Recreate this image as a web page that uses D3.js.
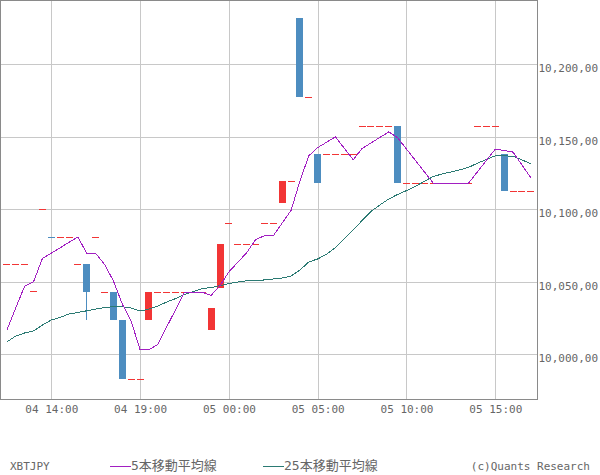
<!DOCTYPE html>
<html><head><meta charset="utf-8">
<script src="https://cdn.jsdelivr.net/npm/d3@7"></script>
<style>body{margin:0;background:#fff}svg{display:block}</style>
</head><body>
<svg id="chart" width="600" height="475"></svg>
<script>
// ---- data (30-minute bars, XBTJPY) ----
const symbol = "XBTJPY";
const ma5Label = "5本移動平均線";
const ma25Label = "25本移動平均線";
const credit = "(c)Quants Research";
const firstBar = "2018-07-04T11:30:00Z";
const lastBar = "2018-07-05T17:00:00Z";
const xTickTimes = ["2018-07-04T14:00:00Z","2018-07-04T19:00:00Z","2018-07-05T00:00:00Z",
                    "2018-07-05T05:00:00Z","2018-07-05T10:00:00Z","2018-07-05T15:00:00Z"];
const yTicks = [10000, 10050, 10100, 10150, 10200];

const open = [
10062.2,10062.2,10062.2,10043.6,10100.0,
10081.0,10080.8,10080.8,10062.2,10062.2,
10080.8,10042.8,10042.8,10023.8,9983.0,
9983.0,10023.8,10042.8,10042.8,10042.8,
10042.8,10042.8,10042.8,10016.7,10045.7,
10090.3,10076.0,10076.0,10076.0,10090.3,
10090.3,10104.2,10119.4,10231.7,10177.5,
10138.0,10138.0,10138.0,10138.0,10138.0,
10157.0,10157.0,10157.0,10157.0,10157.0,
10118.0,10118.0,10118.0,10118.0,10118.0,
10118.0,10118.0,10118.0,10157.0,10157.0,
10157.0,10138.0,10112.8,10112.8,10112.8];
const high = [
10062.2,10062.2,10062.2,10043.6,10100.0,
10081.0,10080.8,10080.8,10062.2,10062.2,
10080.8,10042.8,10042.8,10023.8,9983.0,
9983.0,10042.8,10042.8,10042.8,10042.8,
10042.8,10042.8,10042.8,10031.9,10076.0,
10090.3,10076.0,10076.0,10076.0,10090.3,
10090.3,10119.4,10119.4,10231.7,10177.5,
10138.0,10138.0,10138.0,10138.0,10138.0,
10157.0,10157.0,10157.0,10157.0,10157.0,
10118.0,10118.0,10118.0,10118.0,10118.0,
10118.0,10118.0,10118.0,10157.0,10157.0,
10157.0,10138.0,10112.8,10112.8,10112.8];
const low = [
10062.2,10062.2,10062.2,10043.6,10100.0,
10080.6,10080.8,10080.8,10062.2,10023.8,
10080.8,10042.8,10023.8,9983.0,9983.0,
9983.0,10023.8,10042.8,10042.8,10042.8,
10042.8,10042.8,10042.8,10016.7,10045.7,
10090.3,10076.0,10076.0,10076.0,10090.3,
10090.3,10104.2,10119.4,10177.5,10177.5,
10118.0,10138.0,10138.0,10138.0,10138.0,
10157.0,10157.0,10157.0,10157.0,10118.0,
10118.0,10118.0,10118.0,10118.0,10118.0,
10118.0,10118.0,10118.0,10157.0,10157.0,
10157.0,10112.8,10112.8,10112.8,10112.8];
const close = [
10062.2,10062.2,10062.2,10043.6,10100.0,
10080.6,10080.8,10080.8,10062.2,10042.8,
10080.8,10042.8,10023.8,9983.0,9983.0,
9983.0,10042.8,10042.8,10042.8,10042.8,
10042.8,10042.8,10042.8,10031.9,10076.0,
10090.3,10076.0,10076.0,10076.0,10090.3,
10090.3,10119.4,10119.4,10177.5,10177.5,
10118.0,10138.0,10138.0,10138.0,10138.0,
10157.0,10157.0,10157.0,10157.0,10118.0,
10118.0,10118.0,10118.0,10118.0,10118.0,
10118.0,10118.0,10118.0,10157.0,10157.0,
10157.0,10112.8,10112.8,10112.8,10112.8];
const ma5 = [
10016.7,10032.0,10047.0,10050.0,10066.0,
10069.7,10073.4,10077.2,10080.9,10069.4,
10069.5,10061.9,10050.5,10034.6,10022.7,
10003.1,10003.1,10006.9,10018.9,10030.8,
10042.8,10042.8,10042.8,10040.6,10047.3,
10056.8,10063.4,10070.0,10078.9,10081.7,
10081.7,10090.4,10099.1,10119.4,10136.8,
10142.4,10146.1,10149.8,10141.9,10134.0,
10141.8,10145.6,10149.4,10153.2,10149.2,
10141.4,10133.6,10125.8,10118.0,10118.0,
10118.0,10118.0,10118.0,10125.8,10133.6,
10141.4,10140.4,10139.3,10130.5,10121.6];
const ma25 = [
10008.5,10012.6,10014.7,10016.1,10020.2,
10023.6,10025.4,10027.8,10028.8,10030.0,
10031.2,10032.2,10032.8,10032.7,10031.9,
10029.8,10031.2,10033.3,10036.0,10038.4,
10041.2,10043.3,10045.2,10046.0,10047.3,
10048.8,10049.8,10050.7,10051.0,10051.2,
10051.9,10052.6,10053.9,10058.1,10063.6,
10065.7,10068.9,10073.6,10079.6,10085.6,
10092.2,10098.4,10102.9,10107.0,10110.1,
10112.8,10115.7,10119.1,10122.5,10124.2,
10125.6,10127.1,10128.8,10131.7,10134.2,
10136.8,10136.8,10136.4,10133.9,10131.3];

// ---- layout ----
const svg = d3.select("#chart");
const plotW = 537, plotH = 399;
const colUp = "#f23535", colDown = "#4d8dc0", colMa5 = "#a21fc2", colMa25 = "#2b7a73";
const grid = "#c8c8c8", border = "#8a8a8a", txt = "#666";
const mono = "'DejaVu Sans Mono', 'Noto Sans CJK JP', monospace";

const times = d3.utcMinute.every(30).range(new Date(firstBar), new Date(new Date(lastBar).getTime() + 1));
const bars = times.map((t, i) => ({t, o: open[i], h: high[i], l: low[i], c: close[i], m5: ma5[i], m25: ma25[i]}));

const x = d3.scaleUtc()
  .domain([new Date("2018-07-04T11:06:42Z"), new Date("2018-07-05T17:20:54Z")])
  .range([0, plotW]);
const y = d3.scaleLinear().domain([9969.2, 10244.1]).range([plotH, 0]);

const g = svg.append("g").attr("shape-rendering", "crispEdges");

// grid
g.append("g").selectAll("line").data(yTicks).join("line")
  .attr("x1", 0).attr("x2", plotW)
  .attr("y1", d => Math.round(y(d)) + 0.5).attr("y2", d => Math.round(y(d)) + 0.5)
  .attr("stroke", grid);
const xTicks = xTickTimes.map(s => new Date(s));
g.append("g").selectAll("line").data(xTicks).join("line")
  .attr("y1", 0).attr("y2", plotH)
  .attr("x1", d => Math.round(x(d)) + 0.5).attr("x2", d => Math.round(x(d)) + 0.5)
  .attr("stroke", grid);

// candles
const cw = 7;
const cg = g.append("g");
cg.selectAll("line.wick").data(bars.filter(b => b.h > Math.max(b.o, b.c) || b.l < Math.min(b.o, b.c))).join("line")
  .attr("class", "wick")
  .attr("x1", d => Math.round(x(d.t) - cw / 2) + 3.5).attr("x2", d => Math.round(x(d.t) - cw / 2) + 3.5)
  .attr("y1", d => y(d.h)).attr("y2", d => y(d.l))
  .attr("stroke", d => d.c < d.o ? colDown : colUp);
cg.selectAll("rect").data(bars).join("rect")
  .attr("x", d => Math.round(x(d.t) - cw / 2))
  .attr("width", cw)
  .attr("y", d => Math.round(y(Math.max(d.o, d.c))))
  .attr("height", d => Math.max(1, Math.round(y(Math.min(d.o, d.c))) - Math.round(y(Math.max(d.o, d.c)))))
  .attr("fill", d => d.c < d.o ? colDown : colUp);

// moving averages
const line = key => d3.line().x(d => x(d.t)).y(d => y(d[key]));
g.append("path").datum(bars).attr("d", line("m25")).attr("fill", "none").attr("stroke", colMa25).attr("stroke-width", 1);
g.append("path").datum(bars).attr("d", line("m5")).attr("fill", "none").attr("stroke", colMa5).attr("stroke-width", 1);

// border
g.append("rect").attr("x", 0.5).attr("y", 0.5).attr("width", plotW).attr("height", plotH)
  .attr("fill", "none").attr("stroke", border);

// y axis (right)
const yAxis = d3.axisRight(y).tickValues(yTicks).tickSize(0).tickFormat(d => d3.format(",")(d) + ",00");
const ya = svg.append("g").attr("transform", `translate(${plotW + 0.5},0)`).call(yAxis);
ya.select(".domain").remove();
ya.selectAll(".tick").attr("transform", d => `translate(0,${Math.round(y(d)) + 0.5})`);
ya.selectAll(".tick line").remove();
ya.selectAll(".tick text").attr("x", 1).attr("dy", "7.5px").attr("fill", txt)
  .style("font-family", mono).style("font-size", "11px");

// x axis
const xAxis = d3.axisBottom(x).tickValues(xTicks).tickSize(0).tickFormat(d3.utcFormat("%d %H:%M"));
const xa = svg.append("g").attr("transform", `translate(0,${plotH})`).call(xAxis);
xa.select(".domain").remove();
xa.selectAll(".tick text").attr("y", 0).attr("dy", "13.5px").attr("fill", txt)
  .style("font-family", mono).style("font-size", "11px");

// legend
const ly = 470;
svg.append("text").attr("x", 10).attr("y", ly).text(symbol)
  .attr("fill", txt).style("font-family", mono).style("font-size", "11px");
svg.append("line").attr("x1", 110).attr("x2", 131).attr("y1", 466.5).attr("y2", 466.5)
  .attr("stroke", colMa5).attr("shape-rendering", "crispEdges");
svg.append("text").attr("x", 131).attr("y", ly).text(ma5Label)
  .attr("fill", txt).style("font-family", mono).style("font-size", "13px");
svg.append("line").attr("x1", 263).attr("x2", 284).attr("y1", 466.5).attr("y2", 466.5)
  .attr("stroke", colMa25).attr("shape-rendering", "crispEdges");
svg.append("text").attr("x", 284).attr("y", ly).text(ma25Label)
  .attr("fill", txt).style("font-family", mono).style("font-size", "13px");
svg.append("text").attr("x", 590).attr("y", ly).attr("text-anchor", "end").text(credit)
  .attr("fill", txt).style("font-family", mono).style("font-size", "11px");
</script>
</body></html>
